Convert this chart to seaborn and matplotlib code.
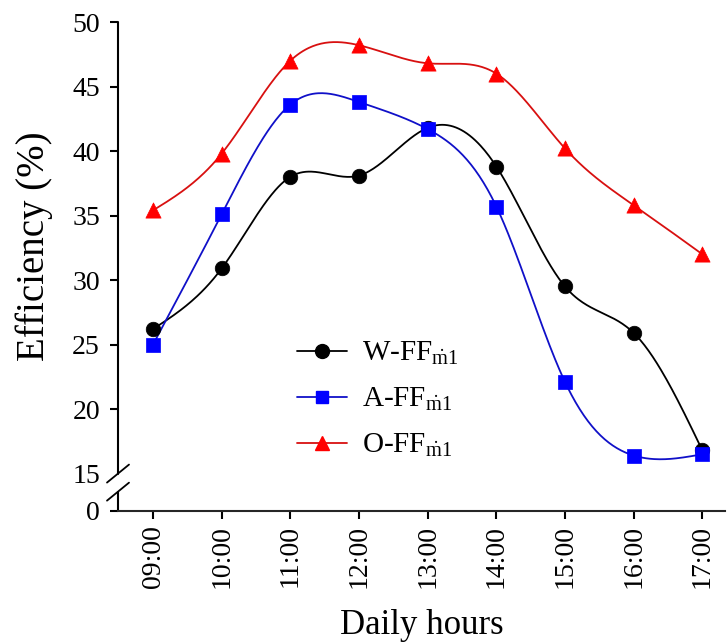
import numpy as np
import pandas as pd
import matplotlib
matplotlib.use("Agg")
import matplotlib.pyplot as plt
from matplotlib.lines import Line2D
import matplotlib.transforms as mtransforms
import seaborn as sns

# ---- data -------------------------------------------------------------
hours = ["09:00", "10:00", "11:00", "12:00", "13:00", "14:00", "15:00", "16:00", "17:00"]
w_ff = [26.2, 30.9, 38.0, 38.1, 41.8, 38.8, 29.5, 25.9, 16.8]
a_ff = [25.0, 35.1, 43.6, 43.8, 41.7, 35.7, 22.1, 16.4, 16.5]
o_ff = [35.4, 39.8, 47.0, 48.2, 46.8, 46.0, 40.2, 35.8, 32.0]
series_names = ["W-FF", "A-FF", "O-FF"]
y_tick_values = [0, 15, 20, 25, 30, 35, 40, 45, 50]

line_colors = {"W-FF": "#000000", "A-FF": "#1010c8", "O-FF": "#d81010"}
marker_colors = {"W-FF": "#000000", "A-FF": "#0000ff", "O-FF": "#ff0000"}
marker_shapes = {"W-FF": "o", "A-FF": "s", "O-FF": "^"}
marker_sizes = {"W-FF": 110, "A-FF": 95, "O-FF": 120}

# broken axis: values >= 15 are drawn on a linear scale, 0 sits just below the break
ZERO_POS = 12.1


def natural_spline(x, y, n=400):
    x = np.asarray(x, float)
    y = np.asarray(y, float)
    m = len(x)
    h = np.diff(x)
    A = np.zeros((m, m))
    b = np.zeros(m)
    A[0, 0] = A[-1, -1] = 1.0
    for i in range(1, m - 1):
        A[i, i - 1] = h[i - 1]
        A[i, i] = 2 * (h[i - 1] + h[i])
        A[i, i + 1] = h[i]
        b[i] = 6 * ((y[i + 1] - y[i]) / h[i] - (y[i] - y[i - 1]) / h[i - 1])
    M = np.linalg.solve(A, b)
    xs = np.linspace(x[0], x[-1], n)
    idx = np.clip(np.searchsorted(x, xs) - 1, 0, m - 2)
    x0, x1 = x[idx], x[idx + 1]
    hh = x1 - x0
    t0, t1 = x1 - xs, xs - x0
    ys = (M[idx] * t0 ** 3 + M[idx + 1] * t1 ** 3) / (6 * hh) \
        + (y[idx] / hh - M[idx] * hh / 6) * t0 + (y[idx + 1] / hh - M[idx + 1] * hh / 6) * t1
    return xs, ys


xpos = np.arange(len(hours))
points = pd.DataFrame({
    "x": np.tile(xpos, 3),
    "y": w_ff + a_ff + o_ff,
    "series": np.repeat(series_names, len(hours)),
})
curves = []
for name, vals in zip(series_names, [w_ff, a_ff, o_ff]):
    xs, ys = natural_spline(xpos, vals)
    curves.append(pd.DataFrame({"x": xs, "y": ys, "series": name}))
curves = pd.concat(curves, ignore_index=True)

# ---- figure -----------------------------------------------------------
sns.set_theme(style="ticks")
plt.rcParams["font.family"] = ["Liberation Serif", "DejaVu Serif"]
plt.rcParams["mathtext.fontset"] = "custom"
plt.rcParams["mathtext.rm"] = "Liberation Serif"
plt.rcParams["mathtext.it"] = "Liberation Serif:italic"
plt.rcParams["text.color"] = "black"
plt.rcParams["axes.labelcolor"] = "black"

fig = plt.figure(figsize=(7.27, 6.44), dpi=100)
ax = fig.add_axes([118 / 727, 1 - 511 / 644, 607 / 727, 489 / 644])

sns.lineplot(data=curves, x="x", y="y", hue="series", palette=line_colors,
             estimator=None, sort=False, linewidth=1.3, legend=False, ax=ax)
for name in series_names:
    sub = points[points["series"] == name]
    sns.scatterplot(data=sub, x="x", y="y", color=marker_colors[name],
                    marker=marker_shapes[name], s=marker_sizes[name],
                    edgecolor=marker_colors[name], linewidth=0.5,
                    legend=False, ax=ax, zorder=3)

ax.set_xlim(-0.51, 8.33)
ax.set_ylim(ZERO_POS, 50)
ax.set_xticks(xpos)
ax.set_xticklabels(hours, rotation=90)
ytick_pos = [ZERO_POS if v == 0 else v for v in y_tick_values]
ax.set_yticks(ytick_pos)
ax.set_yticklabels([str(v) for v in y_tick_values])

for side in ["top", "right", "left"]:
    ax.spines[side].set_visible(False)
ax.spines["bottom"].set_linewidth(1.5)
ax.tick_params(axis="both", direction="out", length=6, width=1.5,
               labelsize=20, colors="black", pad=4)
ax.tick_params(axis="y", pad=7)
ax.yaxis.get_major_ticks()[1].tick1line.set_visible(False)

# left axis drawn in two pieces with break marks
trans = mtransforms.blended_transform_factory(ax.transAxes, ax.transData)
gap_low = 13.6
ax.add_line(Line2D([0, 0], [15, 50], transform=trans, color="black", lw=1.5, clip_on=False))
ax.add_line(Line2D([0, 0], [ZERO_POS, gap_low], transform=trans, color="black", lw=1.5, clip_on=False))
dx = 11 / 607
dy = 9 / 12.92
for yc in [15.0, gap_low]:
    ax.add_line(Line2D([-dx, dx], [yc - dy, yc + dy], transform=trans,
                       color="black", lw=1.3, clip_on=False))

ax.set_xlabel("Daily hours", fontsize=25, labelpad=15)
ax.set_ylabel("Efficiency (%)", fontsize=28)
ax.yaxis.set_label_coords(-0.107, 0.542)

handles = [Line2D([], [], color=line_colors[n], marker=marker_shapes[n],
                  markerfacecolor=marker_colors[n], markeredgecolor=marker_colors[n],
                  markersize=10 if n != "A-FF" else 9, lw=1.3)
           for n in series_names]
labels = [n + r"$_{\dot{\mathrm{m}}1}$" for n in series_names]
ax.legend(handles, labels, loc="upper left", bbox_to_anchor=(0.262, 0.392),
          frameon=False, fontsize=21, handlelength=1.7, handletextpad=0.5,
          labelspacing=0.65, borderpad=0.2)

fig.savefig("out.png", dpi=100)
